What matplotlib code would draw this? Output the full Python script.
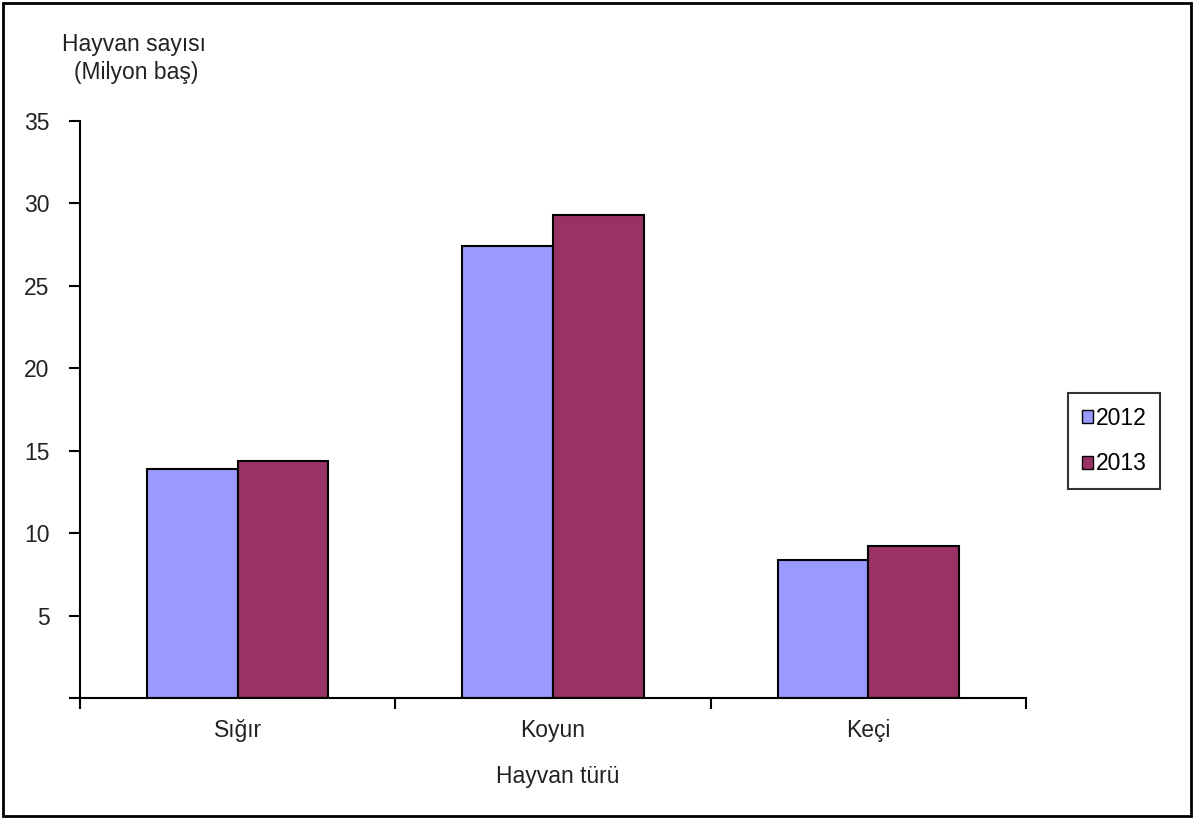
import matplotlib
matplotlib.use("Agg")
import matplotlib.pyplot as plt
from matplotlib.patches import Rectangle, Patch
import numpy as np

plt.rcParams['font.family'] = ['Liberation Sans', 'DejaVu Sans']

categories = ["Sığır", "Koyun", "Keçi"]
years = ["2012", "2013"]
values_2012 = [13.9, 27.4, 8.4]
values_2013 = [14.4, 29.3, 9.2]
yticks = [0, 5, 10, 15, 20, 25, 30, 35]
ytick_labels = ["", "5", "10", "15", "20", "25", "30", "35"]
colors = ["#9999FF", "#993366"]

FS = 16.5
W, H = 1200, 826
fig = plt.figure(figsize=(W/100, H/100), dpi=100)
ax = fig.add_axes([80/W, 1-698/H, (1026-80)/W, (698-121)/H])

x = np.arange(len(categories))
bw = 0.287
ax.bar(x - bw/2, values_2012, bw, color=colors[0], edgecolor="black", linewidth=1.5, label=years[0])
ax.bar(x + bw/2, values_2013, bw, color=colors[1], edgecolor="black", linewidth=1.5, label=years[1])

ax.set_xlim(-0.5, 2.5)
ax.set_ylim(0, 35)
ax.set_yticks(yticks)
ax.set_yticklabels(ytick_labels, fontsize=FS, color="#222222")
ax.set_xticks([-0.5, 0.5, 1.5, 2.5])
ax.set_xticklabels([])
ax.set_xticks(x, minor=True)
ax.set_xticklabels(categories, minor=True, fontsize=FS, color="#222222")
ax.tick_params(axis='x', which='minor', length=0, pad=15)
ax.tick_params(axis='x', which='major', length=8, width=1.5, direction='out')
ax.tick_params(axis='y', length=8, width=1.5, direction='out', pad=14)
for s in ['top', 'right']:
    ax.spines[s].set_visible(False)
for s in ['left', 'bottom']:
    ax.spines[s].set_linewidth(1.5)

fig.text(134/W, 1-45/H, "Hayvan sayısı", ha='center', va='center', fontsize=FS, color="#222222")
fig.text(136/W, 1-73/H, "(Milyon baş)", ha='center', va='center', fontsize=FS, color="#222222")
fig.text(558/W, 1-776/H, "Hayvan türü", ha='center', va='center', fontsize=FS, color="#222222")

handles = [Patch(facecolor=colors[0], edgecolor='black', label=years[0]),
           Patch(facecolor=colors[1], edgecolor='black', label=years[1])]
leg = fig.legend(handles=handles, loc='center', bbox_to_anchor=(1114/W, 1-441/H),
                 fontsize=FS, frameon=True, fancybox=False, edgecolor='black',
                 handlelength=0.5, handleheight=0.5, handletextpad=0.1,
                 labelspacing=1.0, borderpad=0.6, borderaxespad=0)
leg.get_frame().set_linewidth(1.5)

fig.patches.append(Rectangle((3/W, 1-816/H), (1191-3)/W, (816-3)/H, transform=fig.transFigure,
                             fill=False, edgecolor='black', linewidth=2))

fig.savefig("out.png", dpi=100, facecolor='white')
